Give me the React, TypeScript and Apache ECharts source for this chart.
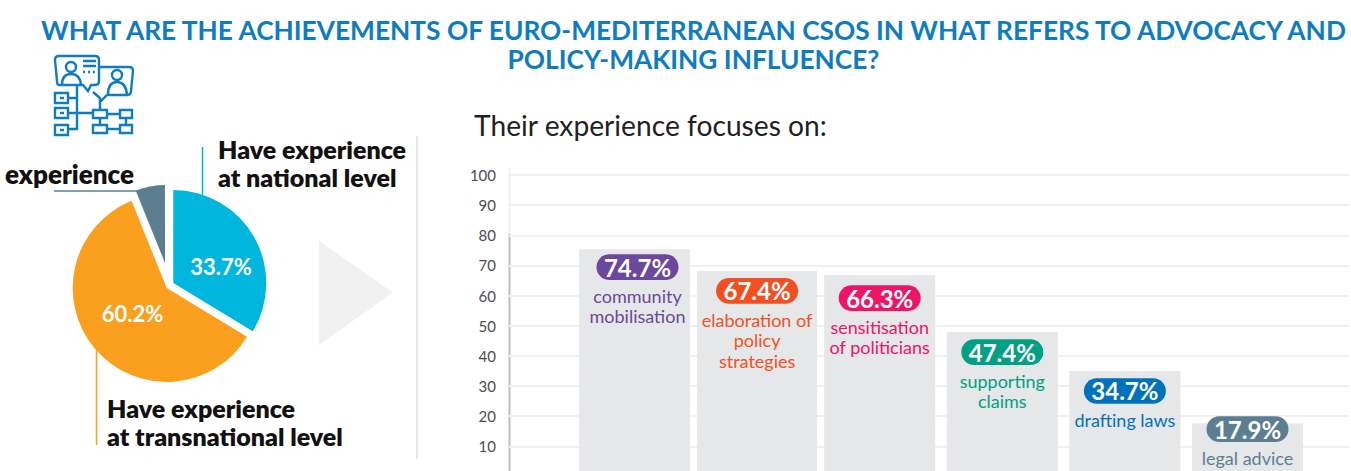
import React, { useEffect, useRef } from "react";
import * as echarts from "echarts";

const titleLines = [
  "WHAT ARE THE ACHIEVEMENTS OF EURO-MEDITERRANEAN CSOS IN WHAT REFERS TO ADVOCACY AND",
  "POLICY-MAKING INFLUENCE?",
];
const subtitle = "Their experience focuses on:";

const pieNames = ["Have experience at national level", "Have experience at transnational level", "No experience"];
const pieValues = [33.7, 60.2, 6.1];

const categories = [
  "community\nmobilisation",
  "elaboration of\npolicy\nstrategies",
  "sensitisation\nof politicians",
  "supporting\nclaims",
  "drafting laws",
  "legal advice",
];
const barTops = [75.4, 68.2, 66.8, 47.9, 35.0, 17.7];
const percentLabels = ["74.7%", "67.4%", "66.3%", "47.4%", "34.7%", "17.9%"];
const yTicks = [10, 20, 30, 40, 50, 60, 70, 80, 90, 100];

// presentation only
const barColors = ["#6B479E", "#F25022", "#ED1566", "#00A083", "#0072BC", "#5C7E91"];
const barPixelWidths = [111, 120, 111, 111, 111, 111];
const pillCentreBelowTop = [18, 20, 23, 20, 20, 6];
const pillShiftX = [3, 0, 0, 0, 0, 0];

const FONT = "Lato";

const iconPath = [
  "M59 56 H95 Q99 56 99 60 V81 Q99 85 95 85 H91 L88 91 L83 85 H59 Q57 85 57 81 L55 60 Q55 56 59 56 Z",
  "M99 67 H129 Q133 67 133 71 L131 91 Q131 95 127 95 H107 L100 102 L100 98 L93 92",
  "M76 67 A5 5 0 1 1 66 67 A5 5 0 1 1 76 67",
  "M62 85 Q62 74 71 74 Q80 74 81 85",
  "M122 75 A5 5 0 1 1 112 75 A5 5 0 1 1 122 75",
  "M108 95 Q108 82 117 82 Q126 82 127 95",
  "M83 61 H96 M83 66 H96 M83 72 H85 M88 72 H90 M93 72 H95",
  "M55 93 H68 V103 H55 Z M55 108 H68 V118 H55 Z M55 125 H68 V135 H55 Z",
  "M60 98 H64 M60 113 H64 M60 130 H64",
  "M68 98 H77 V85 M68 113 H93 M68 129 H77 V98 M100 102 V110",
  "M93 110 H107 V118 H93 Z M120 110 H132 V118 H120 Z M93 125 H107 V133 H93 Z M120 125 H132 V133 H120 Z",
  "M107 114 H120 M100 118 V125 M126 118 V125 M107 129 H120",
].join(" ");

echarts.graphic.registerShape("csoIcon", echarts.graphic.extendPath(iconPath, {}) as any);

const renderBar = (params: any, api: any) => {
  const i = params.dataIndex;
  const top = api.coord([api.value(0), api.value(1)]);
  const base = api.coord([api.value(0), 0]);
  const w = barPixelWidths[i];
  const cx = top[0];
  const pillY = top[1] + pillCentreBelowTop[i];
  const pillX = cx + pillShiftX[i];
  return {
    type: "group",
    children: [
      { type: "rect", shape: { x: cx - w / 2, y: top[1], width: w, height: base[1] - top[1] }, style: { fill: "#E6E7E9" } },
      { type: "rect", shape: { x: pillX - 41, y: pillY - 12.8, width: 82, height: 25.6, r: 12.8 }, style: { fill: barColors[i] } },
      {
        type: "text",
        style: {
          x: pillX, y: pillY, text: percentLabels[i], fill: "#fff", align: "center", verticalAlign: "middle",
          font: `700 24px ${FONT}`,
        },
      },
      {
        type: "text",
        style: {
          x: pillX, y: pillY + 18.5, text: categories[i], fill: barColors[i], align: "center", verticalAlign: "top",
          font: `400 18px ${FONT}`, lineHeight: 20.5,
        },
      },
    ],
  };
};

const slice = (name: string, value: number, color: string) => [
  { name, value, itemStyle: { color } },
  {
    name: "",
    value: Math.round((100 - value) * 10) / 10,
    itemStyle: { color: "transparent" },
    label: { show: false },
    labelLine: { show: false },
    emphasis: { disabled: true },
  },
];

const pieBase = { type: "pie", silent: true, labelLine: { show: false }, z: 3 };
const pieLabel = (offset: number[]) => ({
  show: true,
  position: "inner",
  formatter: (p: any) => `${p.value}%`,
  color: "#fff",
  fontFamily: FONT,
  fontWeight: 700,
  fontSize: 22,
  offset,
});

const boldText = (x: number, y: number, text: string, size = 25) => ({
  type: "text",
  x,
  y,
  style: { text, fill: "#111", font: `800 ${size}px ${FONT}`, lineHeight: 28 },
});
const vline = (x: number, y1: number, y2: number, stroke: string, lineWidth: number) => ({
  type: "line",
  shape: { x1: x, y1, x2: x, y2 },
  style: { stroke, lineWidth },
});

export default function App() {
  const ref = useRef<HTMLDivElement>(null);
  useEffect(() => {
    document.body.style.margin = "0";
    const chart = echarts.init(ref.current!, undefined, { renderer: "svg" });
    chart.setOption({
      animation: false,
      backgroundColor: "#fff",
      title: {
        text: titleLines.join("\n"),
        left: 688.5,
        top: 10,
        textAlign: "center",
        textStyle: { color: "#0F7CC0", fontFamily: FONT, fontWeight: 700, fontSize: 26.3, lineHeight: 29 },
      },
      grid: [
        { left: 509, width: 840, top: 175, height: 301.5, outerBoundsMode: "none" },
        { left: 573.2, width: 735.6, top: 175, height: 301.5, outerBoundsMode: "none" },
      ],
      xAxis: [
        { type: "category", gridIndex: 0, data: [""], show: false },
        { type: "category", gridIndex: 1, data: categories, show: false },
      ],
      yAxis: [
        {
          type: "value",
          gridIndex: 0,
          min: 0,
          max: 100,
          interval: 10,
          axisLine: { show: false },
          axisTick: { show: false },
          splitLine: { lineStyle: { color: "#EFF0F1", width: 2 } },
          axisLabel: {
            color: "#4D4D4D",
            fontFamily: FONT,
            fontSize: 15,
            margin: 13,
            formatter: (v: number) => (yTicks.includes(v) ? String(v) : ""),
          },
        },
        { type: "value", gridIndex: 1, min: 0, max: 100, show: false },
      ],
      series: [
        {
          type: "custom",
          xAxisIndex: 1,
          yAxisIndex: 1,
          clip: false,
          silent: true,
          z: 4,
          renderItem: renderBar,
          data: barTops.map((v, i) => [i, v]),
        },
        {
          ...pieBase,
          center: [173.3, 283],
          radius: [0, 93],
          startAngle: 90,
          label: pieLabel([4.5, 8]),
          data: slice(pieNames[0], pieValues[0], "#00B6DD"),
        },
        {
          ...pieBase,
          center: [166.7, 288],
          radius: [0, 94],
          startAngle: 90 - 121.3,
          label: pieLabel([4, -6.5]),
          data: slice(pieNames[1], pieValues[1], "#FA9F1E"),
        },
        {
          ...pieBase,
          center: [165, 263],
          radius: [0, 78],
          startAngle: 90 - 338,
          label: { show: false },
          data: slice(pieNames[2], pieValues[2], "#5C7E91"),
        },
      ],
      graphic: [
        { type: "csoIcon", style: { fill: "none", stroke: "#0F7CC0", lineWidth: 2.4 }, z: 5 },
        { type: "text", x: 474, y: 111, style: { text: subtitle, fill: "#231F20", font: `400 28.2px ${FONT}` } },
        boldText(218, 135, "Have experience\nat national level"),
        boldText(5, 160, "experience", 26),
        boldText(107, 394, "Have experience\nat transnational level"),
        vline(202.5, 147, 195, "#00B6DD", 1.5),
        vline(96.5, 349, 445, "#FA9F1E", 1.5),
        { type: "line", shape: { x1: 54, y1: 191, x2: 137, y2: 191 }, style: { stroke: "#5C7E91", lineWidth: 1.5 } },
        vline(417, 136, 459, "#E6E7E8", 2),
        { type: "polygon", shape: { points: [[319, 241], [393, 292.5], [319, 345]] }, style: { fill: "#F1F1F1" } },
        vline(509.5, 168, 234, "#EFF0F1", 2),
        vline(509.5, 234, 471, "#BCBEC0", 2),
      ],
    });
    return () => chart.dispose();
  }, []);
  return (
    <div
      ref={ref}
      style={{ position: "fixed", left: 0, top: 0, width: 1351, height: 471, overflow: "hidden" }}
    />
  );
}
